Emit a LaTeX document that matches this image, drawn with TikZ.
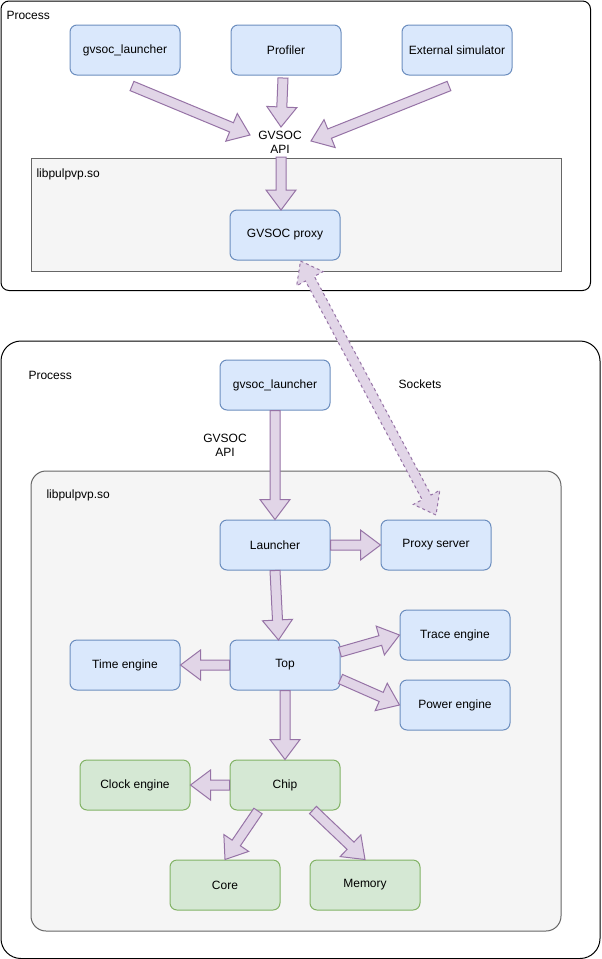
\documentclass[tikz,border=0pt]{standalone}
\usepackage{fontspec}
\setmainfont{Liberation Sans}
\usetikzlibrary{calc, positioning}

\definecolor{bluefill}{HTML}{DAE8FC}
\definecolor{blueline}{HTML}{6C8EBF}
\definecolor{greenfill}{HTML}{D5E8D4}
\definecolor{greenline}{HTML}{82B366}
\definecolor{flexfill}{HTML}{E1D5E7}
\definecolor{flexline}{HTML}{9673A6}
\definecolor{libfill}{HTML}{F5F5F5}
\definecolor{libline}{HTML}{666666}

% block arrow from #2 to #3
\newcommand{\flexarrow}[3][]{%
  \coordinate (fh) at ($(#3)!20pt!(#2)$);
  \filldraw[flex, #1] ($(#2)!5pt!90:(#3)$) -- ($(fh)!5pt!90:(#3)$) -- ($(fh)!15pt!90:(#3)$) -- (#3)
    -- ($(fh)!15pt!-90:(#3)$) -- ($(fh)!5pt!-90:(#3)$) -- ($(#2)!5pt!-90:(#3)$) -- cycle;
}
% block arrow with two heads
\newcommand{\flexboth}[3][]{%
  \coordinate (fa) at ($(#2)!20pt!(#3)$);
  \coordinate (fb) at ($(#3)!20pt!(#2)$);
  \filldraw[flex, #1] (#2) -- ($(fa)!15pt!90:(#3)$) -- ($(fa)!5pt!90:(#3)$) -- ($(fb)!5pt!90:(#3)$)
    -- ($(fb)!15pt!90:(#3)$) -- (#3) -- ($(fb)!15pt!-90:(#3)$) -- ($(fb)!5pt!-90:(#3)$)
    -- ($(fa)!5pt!-90:(#3)$) -- ($(fa)!15pt!-90:(#3)$) -- cycle;
}

\begin{document}
\begin{tikzpicture}[
    x=1pt, y=-1pt,
    font=\fontsize{12}{14}\selectfont,
    line width=1pt,
    node distance=50pt and 50pt,
    block/.style={rectangle, draw=blueline, fill=bluefill, rounded corners=7pt, minimum width=110pt, minimum height=50pt, inner sep=0pt, text centered},
    gblock/.style={block, draw=greenline, fill=greenfill},
    proc/.style={rectangle, draw=black, fill=white, anchor=north west, inner sep=0pt},
    lib/.style={rectangle, draw=libline, fill=libfill, anchor=north west, inner sep=0pt},
    txt/.style={inner sep=0pt, align=center},
    flex/.style={draw=flexline, fill=flexfill, line join=miter}
]
\useasboundingbox (0,0) rectangle (602,959);

% first process
\node [proc, rounded corners=8pt, minimum width=589.5pt, minimum height=289.5pt] (proc1) at (0.5,0.5) {};
\node [txt, anchor=base west] (proc1lbl) at (6,19) {Process};
\node [lib, minimum width=530pt, minimum height=113pt] (lib1) at (30.5,157.5) {};
\node [txt, anchor=base west] (lib1lbl) at (36,177) {libpulpvp.so};

\node [block] (gvl1) at (125,50) {gvsoc\_launcher};
\node [block, right=of gvl1] (profiler) {Profiler};
\node [block, right=60pt of profiler] (extsim) {External simulator};
\node [txt] (api1) at (280,142) {GVSOC\\API};
\node [block] (proxy) at (285,235) {GVSOC proxy};

% second process
\node [proc, rounded corners=20pt, minimum width=599pt, minimum height=617.5pt] (proc2) at (0.5,340.5) {};
\node [txt, anchor=base west] (proc2lbl) at (28,379) {Process};
\node [lib, rounded corners=15pt, minimum width=530pt, minimum height=460pt] (lib2) at (30.5,470.5) {};
\node [txt, anchor=base west] (lib2lbl) at (46,498) {libpulpvp.so};

\node [block] (gvl2) at (275,385) {gvsoc\_launcher};
\node [txt] (api2) at (225,445) {GVSOC\\API};
\node [txt] (sockets) at (420,384) {Sockets};
\node [block] (launcher) at (275,545) {Launcher};
\node [block, right=of launcher] (proxysrv) {Proxy server};
\node [block] (top) at (285,665) {Top};
\node [block] (timeeng) at (125,665) {Time engine};
\node [block] (traceeng) at (455,635) {Trace engine};
\node [block] (powereng) at (455,705) {Power engine};
\node [gblock] (chip) at (285,785) {Chip};
\node [gblock] (clockeng) at (135,785) {Clock engine};
\node [gblock] (core) at (225,885) {Core};
\node [gblock] (memory) at (365,885) {Memory};

% arrow ends
\coordinate (gvl1out) at (132,86);
\coordinate (gvl1in) at (250,135);
\coordinate (profout) at (283,78);
\coordinate (profin) at (281,127);
\coordinate (extout) at (449,86);
\coordinate (extin) at (311,141);
\coordinate (apiout) at (281,157);
\coordinate (proxyin) at (281,210);
\coordinate (proxyend) at (300.5,261);
\coordinate (srvend) at (436,515);
\coordinate (topin) at (278.5,640);
\coordinate (topout1) at (340,652);
\coordinate (topout2) at (340.5,679);
\coordinate (chipout1) at (258,811);
\coordinate (chipout2) at (313,810);

% connectors
\flexarrow{gvl1out}{gvl1in}
\flexarrow{profout}{profin}
\flexarrow{extout}{extin}
\flexarrow{apiout}{proxyin}
\flexboth[dash pattern=on 3pt off 3pt]{proxyend}{srvend}
\flexarrow{gvl2.south}{launcher.north}
\flexarrow{launcher.east}{proxysrv.west}
\flexarrow{launcher.south}{topin}
\flexarrow{top.west}{timeeng.east}
\flexarrow{topout1}{traceeng.west}
\flexarrow{topout2}{powereng.west}
\flexarrow{top.south}{chip.north}
\flexarrow{chip.west}{clockeng.east}
\flexarrow{chipout1}{core.north}
\flexarrow{chipout2}{memory.north}
\end{tikzpicture}
\end{document}
